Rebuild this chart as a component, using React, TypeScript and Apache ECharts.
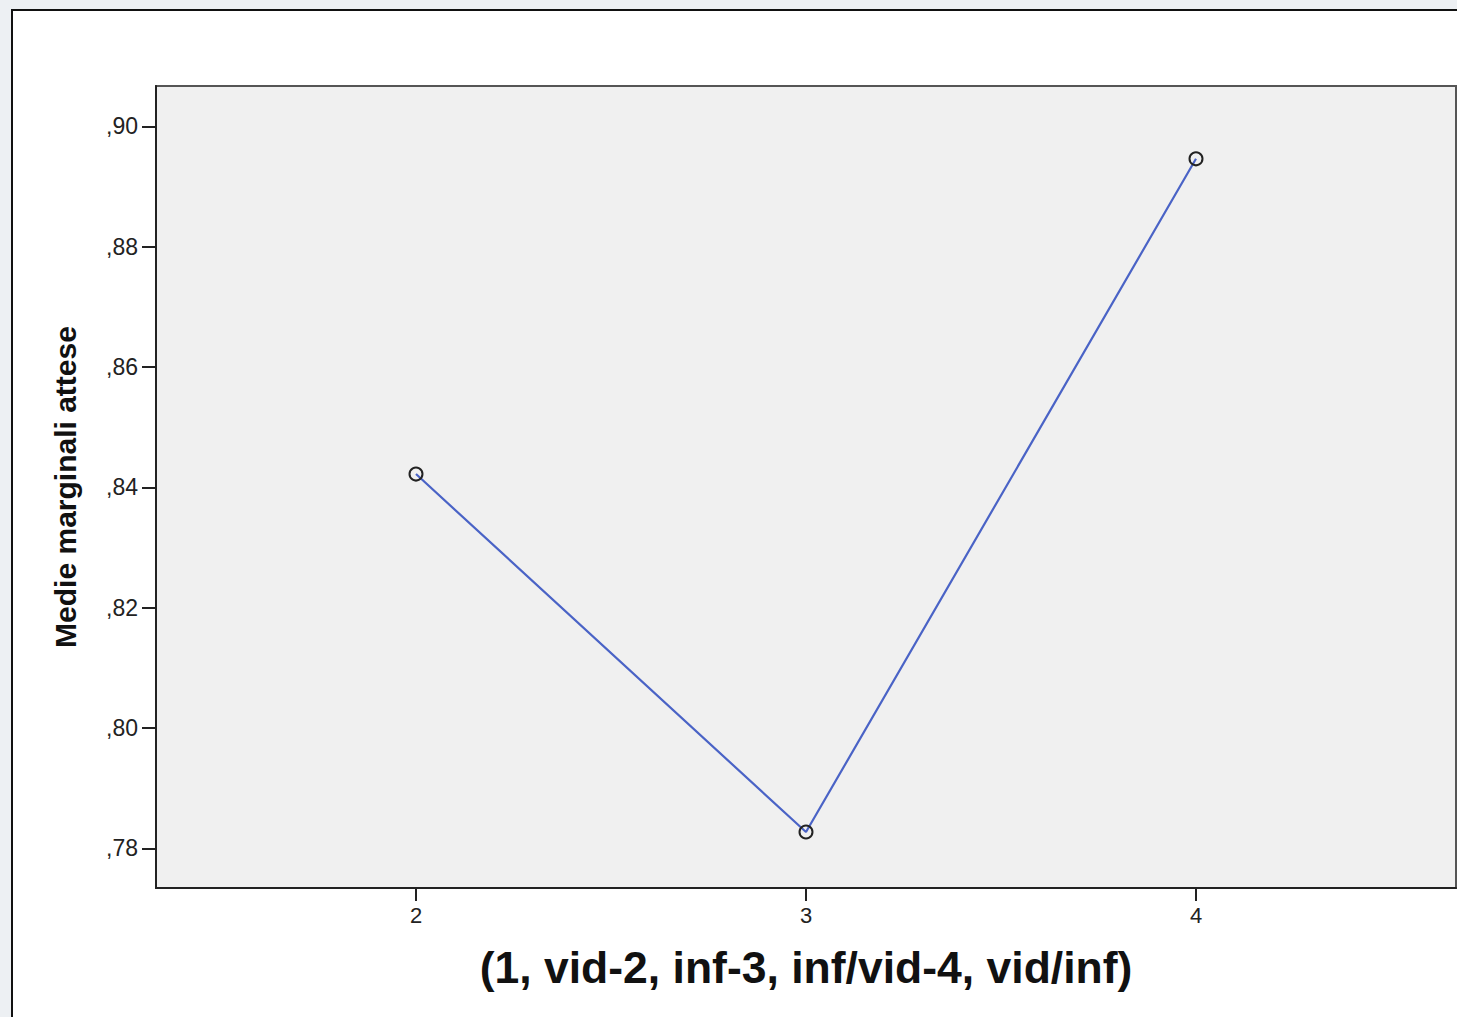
import React, { useEffect, useRef } from "react";
import * as echarts from "echarts";

const categories = [2, 3, 4];
const means = [0.8422, 0.7827, 0.8946];
const xTickValues = [2, 3, 4];
const yTickValues = [0.78, 0.8, 0.82, 0.84, 0.86, 0.88, 0.9];
const xTitle = "(1, vid-2, inf-3, inf/vid-4, vid/inf)";
const yTitle = "Medie marginali attese";

const FONT = '"Liberation Sans", Arial, sans-serif';

export default function App() {
  const ref = useRef<HTMLDivElement>(null);
  useEffect(() => {
    if (!ref.current) return;
    const chart = echarts.init(ref.current, undefined, { renderer: "svg" });
    chart.setOption({
      animation: false,
      backgroundColor: "#edf0f3",
      graphic: {
        z: -100,
        elements: [
          {
            type: "rect",
            z: -100,
            shape: { x: 12, y: 10, width: 1480, height: 1040 },
            style: { fill: "#ffffff", stroke: "#111111", lineWidth: 2 },
          },
        ],
      },
      grid: {
        left: 156,
        top: 86,
        width: 1300,
        height: 802,
        show: true,
        backgroundColor: "#f0f0f0",
        borderColor: "#555555",
        borderWidth: 2,
      },
      xAxis: {
        type: "value",
        min: 4 / 3,
        max: 14 / 3,
        name: xTitle,
        nameLocation: "middle",
        nameGap: 57,
        nameTextStyle: {
          fontFamily: FONT,
          fontWeight: "bold",
          fontSize: 44.5,
          color: "#111",
        },
        axisLine: { show: true, lineStyle: { color: "#222", width: 2 } },
        axisTick: {
          show: true,
          length: 13,
          customValues: xTickValues,
          lineStyle: { color: "#222", width: 2 },
        },
        axisLabel: {
          customValues: xTickValues,
          margin: 16,
          fontFamily: FONT,
          fontSize: 22,
          color: "#222",
          formatter: (v: number) => String(Math.round(v)),
        },
        splitLine: { show: false },
      },
      yAxis: {
        type: "value",
        min: 0.7734,
        max: 0.9067,
        name: yTitle,
        nameLocation: "middle",
        nameGap: 76,
        nameTextStyle: {
          fontFamily: FONT,
          fontWeight: "bold",
          fontSize: 30,
          color: "#111",
        },
        axisLine: { show: true, lineStyle: { color: "#222", width: 2 } },
        axisTick: {
          show: true,
          length: 14,
          customValues: yTickValues,
          lineStyle: { color: "#222", width: 2 },
        },
        axisLabel: {
          customValues: yTickValues,
          margin: 18,
          fontFamily: FONT,
          fontSize: 23,
          color: "#222",
          formatter: (v: number) => "," + String(Math.round(v * 100)),
        },
        splitLine: { show: false },
      },
      series: [
        {
          type: "line",
          data: categories.map((c, i) => [c, means[i]]),
          symbol: "circle",
          symbolSize: 13,
          lineStyle: { color: "#4a63c6", width: 2.2 },
          itemStyle: {
            color: "rgba(0,0,0,0)",
            borderColor: "#222",
            borderWidth: 2,
          },
        },
      ],
    });
    return () => chart.dispose();
  }, []);
  return (
    <div
      ref={ref}
      style={{ position: "fixed", left: 0, top: 0, width: 1457, height: 1017 }}
    />
  );
}
